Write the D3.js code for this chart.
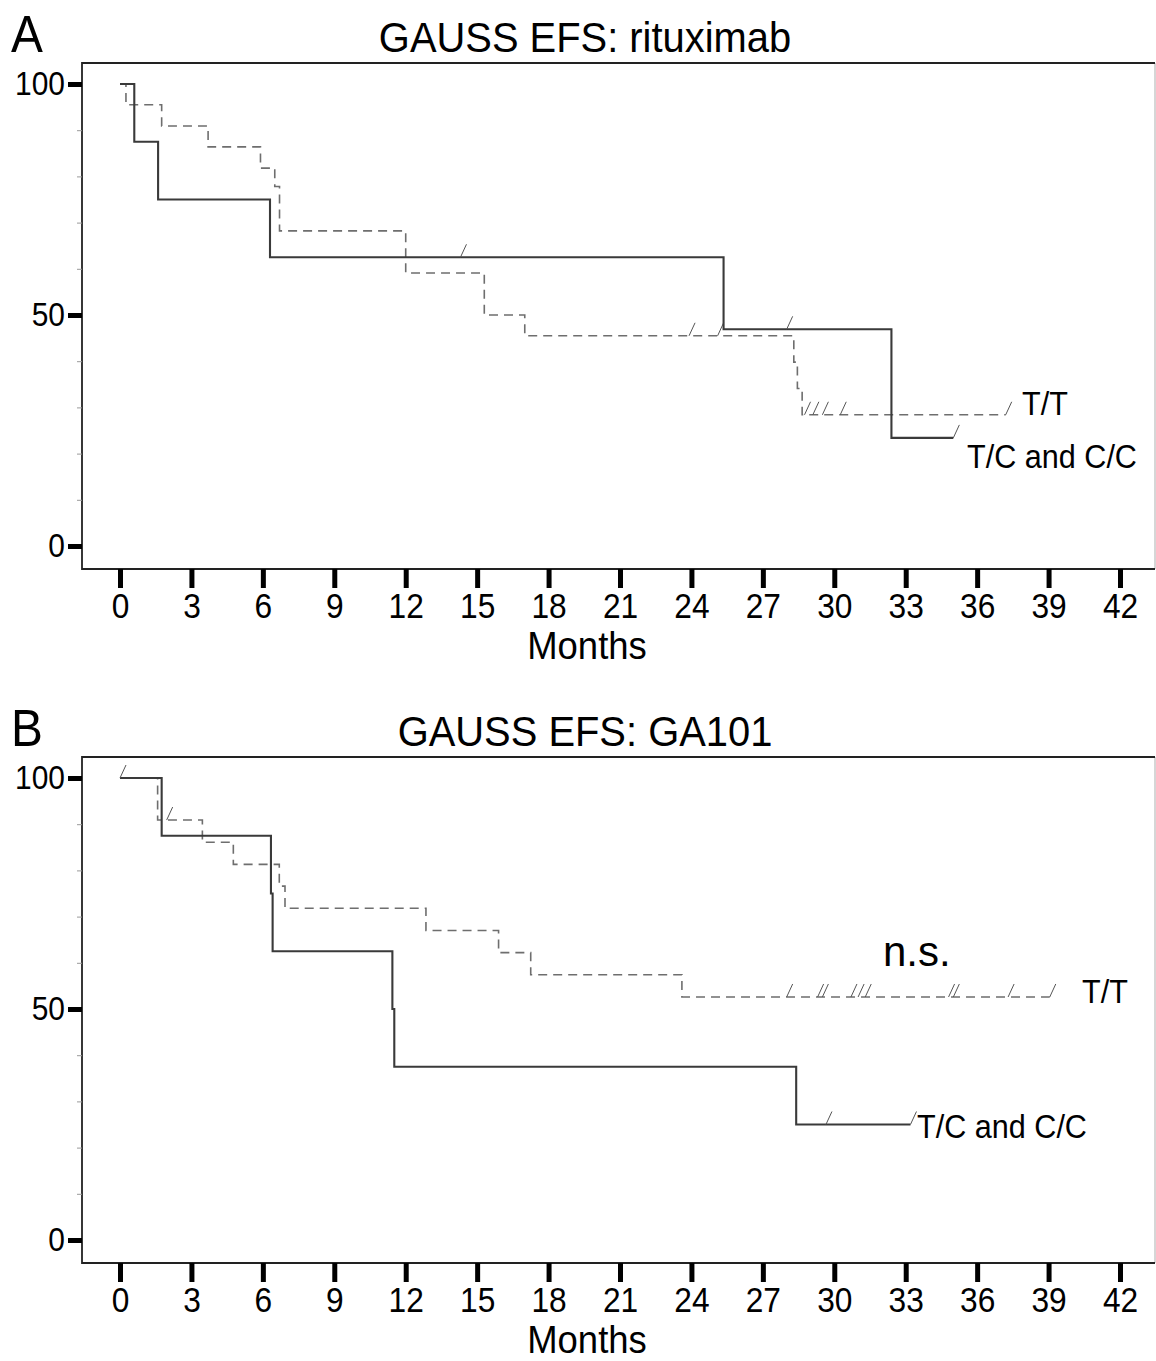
<!DOCTYPE html>
<html>
<head>
<meta charset="utf-8">
<script src="https://cdn.jsdelivr.net/npm/d3@7"></script>
<style>
  body { margin: 0; background: #fff; }
  svg text { font-family: "Liberation Sans", Arial, sans-serif; fill: #000; }
</style>
</head>
<body>
<svg id="chart" width="1156" height="1361"></svg>
<script>
// values (months, % event free)
const monthTicks = d3.range(0, 43, 3)
const majorY = [0, 50, 100]
const minorY = [10, 20, 30, 40, 60, 70, 80, 90]

// A: rituximab
const aSolidTimes = [0, 0.6, 1.6, 6.3, 25.35, 32.4]
const aSolidSurv = [100, 87.5, 75, 62.5, 46.9, 23.4]
const aSolidEnd = 35.0
const aSolidCens = [14.3, 28.0, 35.0]

const aDashTimes = [0, 0.25, 1.75, 3.7, 5.9, 6.5, 6.7, 12.0, 15.3, 17.0, 28.3, 28.45, 28.65]
const aDashSurv = [100, 95.5, 90.9, 86.4, 81.8, 77.8, 68.2, 59.1, 50.0, 45.5, 39.8, 34.1, 28.4]
const aDashEnd = 37.2
const aDashCens = [23.9, 25.1, 28.75, 29.1, 29.5, 30.25, 37.2]

// B: GA101
const bSolidTimes = [0, 1.75, 6.34, 6.41, 11.44, 11.52, 28.4]
const bSolidSurv = [100, 87.5, 75, 62.5, 50, 37.5, 25]
const bSolidEnd = 33.2
const bSolidCens = [0, 29.65, 33.2]

const bDashTimes = [0, 1.58, 3.46, 4.76, 6.69, 6.93, 12.85, 15.9, 17.25, 23.6]
const bDashSurv = [100, 90.9, 86.1, 81.3, 76.6, 71.8, 67.0, 62.2, 57.4, 52.6]
const bDashEnd = 39.05
const bDashCens = [1.96, 28.0, 29.3, 29.5, 30.7, 31.0, 31.3, 34.8, 35.0, 37.3, 39.05]

const svg = d3.select("#chart")
const frameLeft = 82, frameRight = 1155
const solidColor = "#3a3a3a"
const dashColor = "#6e6e6e"
const tickSx = 0.88 // the figure's lettering is a bit narrow

const panels = [
  {
    letter: "A", title: "GAUSS EFS: rituximab", top: 0,
    solid: { times: aSolidTimes, surv: aSolidSurv, end: aSolidEnd, cens: aSolidCens },
    dash: { times: aDashTimes, surv: aDashSurv, end: aDashEnd, cens: aDashCens },
    labels: [
      { text: "T/T", x: 1022, y: 415 },
      { text: "T/C and C/C", x: 967, y: 468 }
    ]
  },
  {
    letter: "B", title: "GAUSS EFS: GA101", top: 694,
    solid: { times: bSolidTimes, surv: bSolidSurv, end: bSolidEnd, cens: bSolidCens },
    dash: { times: bDashTimes, surv: bDashSurv, end: bDashEnd, cens: bDashCens },
    labels: [
      { text: "T/T", x: 1082, y: 1003 },
      { text: "T/C and C/C", x: 917, y: 1138 },
      { text: "n.s.", x: 883, y: 966, size: 42, sx: 1 }
    ]
  }
]

panels.forEach(p => drawPanel(p))

function addText(x, y, size, sx, str, anchor) {
  return svg.append("text")
    .attr("transform", `translate(${x},${y}) scale(${sx},1)`)
    .attr("text-anchor", anchor || "start")
    .attr("font-size", size).text(str)
}

function drawPanel(p) {
  const t = p.top
  const x = d3.scaleLinear().domain([0, 42]).range([120, 1120])
  const y = d3.scaleLinear().domain([0, 100]).range([546 + t, 84 + t])
  const frameTop = 63 + t, frameBottom = 569 + t

  // letter + title
  addText(11, 52 + t, 52, 0.92, p.letter)
  addText(585, 52 + t, 42, 0.95, p.title, "middle")

  // frame
  svg.append("line").attr("x1", frameRight).attr("x2", frameRight)
    .attr("y1", frameTop).attr("y2", frameBottom)
    .attr("stroke", "#c8c8c8").attr("stroke-width", 1.5)
  svg.append("path")
    .attr("d", `M${frameRight},${frameTop}H${frameLeft}V${frameBottom}H${frameRight}`)
    .attr("fill", "none").attr("stroke", "#222").attr("stroke-width", 1.8)

  // x axis
  const xAxis = svg.append("g")
    .attr("transform", `translate(0,${frameBottom})`)
    .call(d3.axisBottom(x).tickValues(monthTicks).tickSize(19).tickPadding(4))
  xAxis.select(".domain").remove()
  xAxis.selectAll(".tick line").attr("stroke", "#000").attr("stroke-width", 5)
  xAxis.selectAll(".tick text").attr("font-size", 36)
    .attr("font-family", '"Liberation Sans", Arial, sans-serif')
    .attr("transform", `scale(${tickSx},1)`)
  addText(587, 659 + t, 38, 0.96, "Months", "middle")

  // y axis, major and minor
  const yAxis = svg.append("g")
    .attr("transform", `translate(${frameLeft},0)`)
    .call(d3.axisLeft(y).tickValues(majorY).tickSize(14).tickPadding(3))
  yAxis.select(".domain").remove()
  yAxis.selectAll(".tick line").attr("stroke", "#000").attr("stroke-width", 5)
  yAxis.selectAll(".tick text").attr("font-size", 34)
    .attr("font-family", '"Liberation Sans", Arial, sans-serif')
    .attr("x", -17 / tickSx)
    .attr("transform", `scale(${tickSx},1)`)
  const yMinor = svg.append("g")
    .attr("transform", `translate(${frameLeft},0)`)
    .call(d3.axisLeft(y).tickValues(minorY).tickSize(5).tickFormat(""))
  yMinor.select(".domain").remove()
  yMinor.selectAll(".tick line").attr("stroke", "#999").attr("stroke-width", 1)

  drawCurve(p.dash, x, y, dashColor, "9,6", 1.6)
  drawCurve(p.solid, x, y, solidColor, null, 2.1)

  p.labels.forEach(l => {
    addText(l.x, l.y, l.size || 34, l.sx || 0.9, l.text)
  })
}

function drawCurve(s, x, y, color, dash, width) {
  const pts = s.times.map((d, i) => [d, s.surv[i]])
  pts.push([s.end, s.surv[s.surv.length - 1]])
  const line = d3.line().curve(d3.curveStepAfter)
    .x(d => x(d[0])).y(d => y(d[1]))
  svg.append("path").attr("d", line(pts))
    .attr("fill", "none").attr("stroke", color)
    .attr("stroke-width", width)
    .attr("stroke-dasharray", dash)

  // censor ticks drawn as small slanted strokes
  svg.append("g").selectAll("line").data(s.cens).join("line")
    .attr("x1", d => x(d))
    .attr("y1", d => y(s.surv[d3.bisectRight(s.times, d) - 1]))
    .attr("x2", d => x(d) + 6)
    .attr("y2", d => y(s.surv[d3.bisectRight(s.times, d) - 1]) - 13)
    .attr("stroke", "#555").attr("stroke-width", 1)
}
</script>
</body>
</html>
